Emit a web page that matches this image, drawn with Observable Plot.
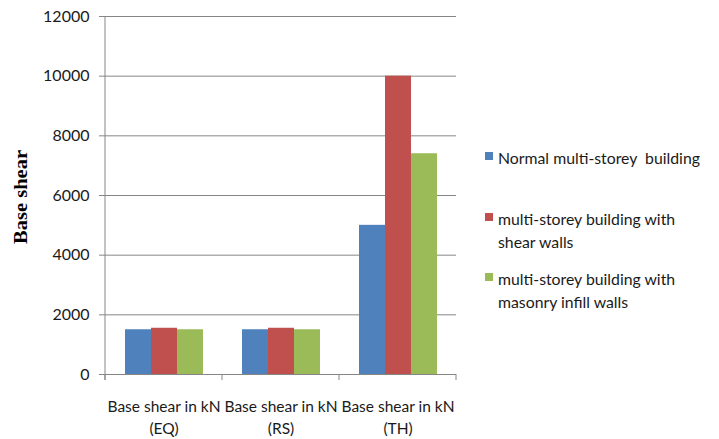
<!DOCTYPE html>
<html>
<head>
<meta charset="utf-8">
<script src="https://cdn.jsdelivr.net/npm/d3@7"></script>
<script src="https://cdn.jsdelivr.net/npm/@observablehq/plot@0.6"></script>
<style>
  body { margin: 0; background: #fff; }
  #chart { position: relative; width: 719px; height: 439px; font-family: Lato, "Open Sans", sans-serif; }
  .legend { position: absolute; left: 485px; top: 0; font-size: 15.8px; color: #1a1a1a; }
  .legend .item { position: absolute; left: 0; white-space: nowrap; }
  .legend .sw { position: absolute; left: 0; width: 8px; height: 8px; }
  .legend .lbl { position: absolute; left: 13px; line-height: 23px; }
</style>
</head>
<body>
<div id="chart"></div>
<script>
// Load cases (x categories) and building variants (series)
const categories = ["EQ", "RS", "TH"];
const categoryLabels = ["Base shear in kN\n(EQ)", "Base shear in kN\n(RS)", "Base shear in kN\n(TH)"];
const series = [
  "Normal multi-storey  building",
  "multi-storey building with shear walls",
  "multi-storey building with masonry infill walls"
];
const legendLabels = [
  ["Normal multi-storey  building"],
  ["multi-storey building with", "shear walls"],
  ["multi-storey building with", "masonry infill walls"]
];
const colors = ["#4F81BD", "#C0504D", "#9BBB59"];

// Base shear (kN) per series, one value per load case
const normalValues = [1500, 1500, 5000];
const shearWallValues = [1550, 1550, 10000];
const infillValues = [1500, 1500, 7400];

const yTicks = [0, 2000, 4000, 6000, 8000, 10000, 12000];

const seriesValues = [normalValues, shearWallValues, infillValues];
const data = series.flatMap((s, si) =>
  categories.map((c, ci) => ({cat: c, series: s, value: seriesValues[si][ci]}))
);

const gridColor = "#868686";
const textColor = "#1a1a1a";

const plot = Plot.plot({
  width: 719,
  height: 439,
  marginLeft: 104,
  marginRight: 262,
  marginTop: 16,
  marginBottom: 65,
  style: {fontFamily: "Lato, 'Open Sans', sans-serif", fontSize: "15px", color: textColor, background: "#fff"},
  fx: {domain: categories, padding: 0, label: null},
  x: {domain: series, paddingInner: 0, paddingOuter: 0.7, axis: null},
  y: {domain: [0, 12000], label: null},
  color: {domain: series, range: colors},
  marks: [
    Plot.ruleY(yTicks, {stroke: gridColor, strokeWidth: 1}),
    Plot.barY(data, {fx: "cat", x: "series", y: "value", fill: "series"}),
    Plot.axisY({
      ticks: yTicks, tickSize: 6, tickPadding: 10, stroke: gridColor,
      tickFormat: d3.format("d"), label: null, fill: textColor, fontSize: 16
    }),
    Plot.axisFx({
      anchor: "bottom", tickSize: 0, tickPadding: 22, label: null,
      tickFormat: (d) => categoryLabels[categories.indexOf(d)],
      lineHeight: 1.42, fill: textColor, fontSize: 15.5
    })
  ]
});

const root = document.getElementById("chart");
root.appendChild(plot);

// Axis line and category boundary ticks, placed from the plot's own scales
const svg = d3.select(plot);
const fx = plot.scale("fx");
const y = plot.scale("y");
const y0 = y.apply(0), yTop = y.apply(12000);
const xLeft = fx.apply(categories[0]);
svg.append("line")
  .attr("x1", xLeft).attr("x2", xLeft).attr("y1", yTop).attr("y2", y0 + 6)
  .attr("stroke", gridColor);
categories.forEach((c, i) => {
  const xs = [fx.apply(c)];
  if (i === categories.length - 1) xs.push(fx.apply(c) + fx.bandwidth);
  xs.forEach((xb) => svg.append("line")
    .attr("x1", xb).attr("x2", xb).attr("y1", y0).attr("y2", y0 + 6)
    .attr("stroke", gridColor));
});

// Rotated y-axis title
svg.append("text")
  .attr("transform", `translate(21,${(y0 + yTop) / 2 + 2}) rotate(-90)`)
  .attr("text-anchor", "middle")
  .attr("dominant-baseline", "central")
  .attr("font-family", "'Liberation Serif', serif")
  .attr("font-weight", "bold")
  .attr("font-size", 18)
  .attr("textLength", 94)
  .attr("lengthAdjust", "spacingAndGlyphs")
  .attr("fill", "#000")
  .text("Base shear");

// Legend
const legend = document.createElement("div");
legend.className = "legend";
const itemTops = [146, 207, 267];
legendLabels.forEach((lines, i) => {
  const item = document.createElement("div");
  item.className = "item";
  item.style.top = itemTops[i] + "px";
  const sw = document.createElement("div");
  sw.className = "sw";
  sw.style.background = colors[i];
  sw.style.top = "6px";
  const lbl = document.createElement("div");
  lbl.className = "lbl";
  lbl.innerHTML = lines.map((l) => l.replace(/  /g, " &nbsp;")).join("<br>");
  item.appendChild(sw);
  item.appendChild(lbl);
  legend.appendChild(item);
});
root.appendChild(legend);
</script>
</body>
</html>
